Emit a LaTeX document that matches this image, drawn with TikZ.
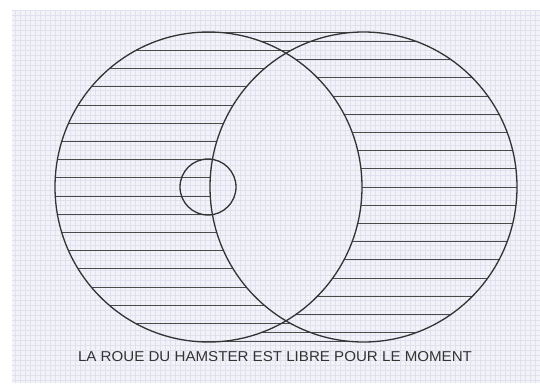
\documentclass[tikz,border=0pt]{standalone}
\usepackage{fontspec}
\setmainfont{Liberation Sans}
\usepackage{graphicx}
\definecolor{paper}{HTML}{F2F2F9}
\definecolor{gridc}{HTML}{E0E0EE}
\definecolor{ink}{HTML}{333333}
\definecolor{hatchc}{HTML}{4A4A4A}
\tikzset{
  wheel/.style={draw=ink, line width=1.3pt},
  hatchline/.style={draw=hatchc, line width=1pt},
  gridline/.style={draw=gridc, line width=0.3pt},
}
\begin{document}
\begin{tikzpicture}[x=1pt,y=-1pt]
\useasboundingbox (0,0) rectangle (540,383);
\fill[white] (0,0) rectangle (540,383);
\fill[paper] (12,10) rectangle (540,383);
\draw[gridline, step=5pt] (12,10) grid (540,383);
% left crescent hatching
\foreach \k in {0,...,8} {
  \foreach \s in {-1,1} {
    \pgfmathsetmacro\d{\s*(9.1+18.2*\k)}
    \pgfmathsetmacro\w{153.5*sqrt(max(0,1-(\d/155)^2))}
    \draw[hatchline] (208.5-\w,187+\d) -- (363.5-\w,187+\d);
  }
}
% right crescent hatching
\foreach \k in {0,...,8} {
  \foreach \s in {-1,1} {
    \pgfmathsetmacro\d{\s*18.2*\k}
    \pgfmathsetmacro\w{153.5*sqrt(max(0,1-(\d/155)^2))}
    \draw[hatchline] (208.5+\w,187+\d) -- (363.5+\w,187+\d);
  }
}
\draw[wheel] (208.5,187) ellipse [x radius=153.5pt, y radius=155pt];
\draw[wheel] (363.5,187) ellipse [x radius=153.5pt, y radius=155pt];
\draw[wheel] (208,187) circle [radius=28pt];
\node[text=ink, inner sep=0pt] (caption) at (275,357)
  {\resizebox{394pt}{10pt}{LA ROUE DU HAMSTER EST LIBRE POUR LE MOMENT}};
\end{tikzpicture}
\end{document}
